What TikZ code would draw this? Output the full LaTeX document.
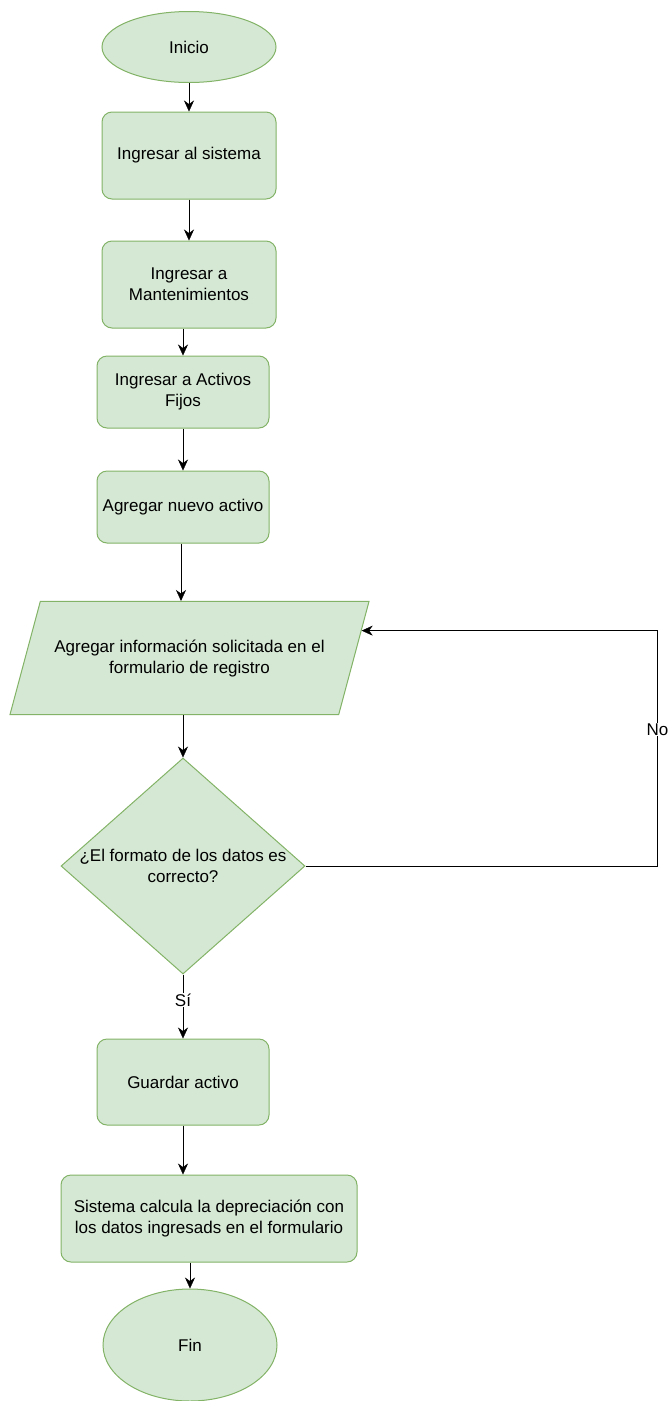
\documentclass[tikz,border=0pt]{standalone}
\usepackage{fontspec}
\setmainfont{Liberation Sans}
\usepackage{tikz}
\usetikzlibrary{arrows.meta}
\usetikzlibrary{shapes.geometric}
\usetikzlibrary{calc}
\definecolor{boxfill}{HTML}{D5E8D4}
\definecolor{boxline}{HTML}{82B366}

\begin{document}
\begin{tikzpicture}[x=1pt,y=-1pt,font=\fontsize{17}{21}\selectfont,>={Stealth[length=11pt,width=10pt]}]
					\useasboundingbox (0,0) rectangle (670,1401);
					
					\tikzstyle{terminal}=[ellipse,fill=boxfill,draw=boxline,line width=1pt,minimum width=174pt,inner sep=0pt]
					\tikzstyle{process}=[rectangle,rounded corners=10pt,fill=boxfill,draw=boxline,line width=1pt,inner sep=0pt,align=center]
					\tikzstyle{inout}=[trapezium,trapezium left angle=75,trapezium right angle=105,trapezium stretches body,fill=boxfill,draw=boxline,line width=1pt,minimum width=359pt,inner xsep=0pt,inner ysep=38pt,align=center]
					\tikzstyle{decision}=[diamond,fill=boxfill,draw=boxline,line width=1pt,minimum width=244pt,minimum height=216pt,inner sep=0pt]
					\tikzstyle{answer}=[fill=white,inner sep=1pt]
					
					%Start
					\node[terminal,minimum height=71pt] (start) at (189,47) {Inicio};
					
					%Steps
					\node[process,minimum width=174pt,minimum height=87pt] (s1) at (189,155.5) {Ingresar al sistema};
					\node[process,minimum width=174pt,minimum height=87pt] (s2) at (189,284.5) {Ingresar a\\Mantenimientos};
					\node[process,minimum width=172pt,minimum height=72pt] (s3) at (183,392) {Ingresar a Activos\\Fijos};
					\node[process,minimum width=172pt,minimum height=72pt] (s4) at (183,507) {Agregar nuevo activo};
					
					%Form input
					\node[inout] (form) at (189.5,658) {Agregar informaci\'on solicitada en el\\formulario de registro};
					
					%Check
					\node[decision,label={[align=center]center:¿El formato de los datos es\\correcto?}] (check) at (183,866) {};
					
					%Save and compute
					\node[process,minimum width=172pt,minimum height=86pt] (save) at (183,1082) {Guardar activo};
					\node[process,minimum width=296pt,minimum height=87pt] (calc) at (209,1218.5) {Sistema calcula la depreciaci\'on con\\los datos ingresads en el formulario};
					
					%End
					\node[terminal,minimum height=112pt] (end) at (190,1345) {Fin};
					
					%Links
					\foreach \from/\to in {start/s1, s1/s2}
					\draw [->] (\from) -- (\to);
					\draw [->] (s3.north |- s2.south) -- (s3.north);
					\draw [->] (s3) -- (s4);
					\draw [->] ([xshift=-2pt]s4.south) -- ([xshift=-2pt]s4.south |- form.north);
					\draw [->] (check.north |- form.south) -- (check.north);
					\draw [->] (check) -- node[answer,pos=0.4] {Sí} (save);
					\draw [->] (save.south) -- (save.south |- calc.north);
					\draw [->] (end.north |- calc.south) -- (end.north);
					
					%Back to the form
					\coordinate (back) at ($(form.top right corner)!0.26!(form.bottom right corner)$);
					\draw [->] (check.east) -- ++(352,0) |- node[answer,pos=0.29] {No} (back);
					
					\end{tikzpicture}
\end{document}
